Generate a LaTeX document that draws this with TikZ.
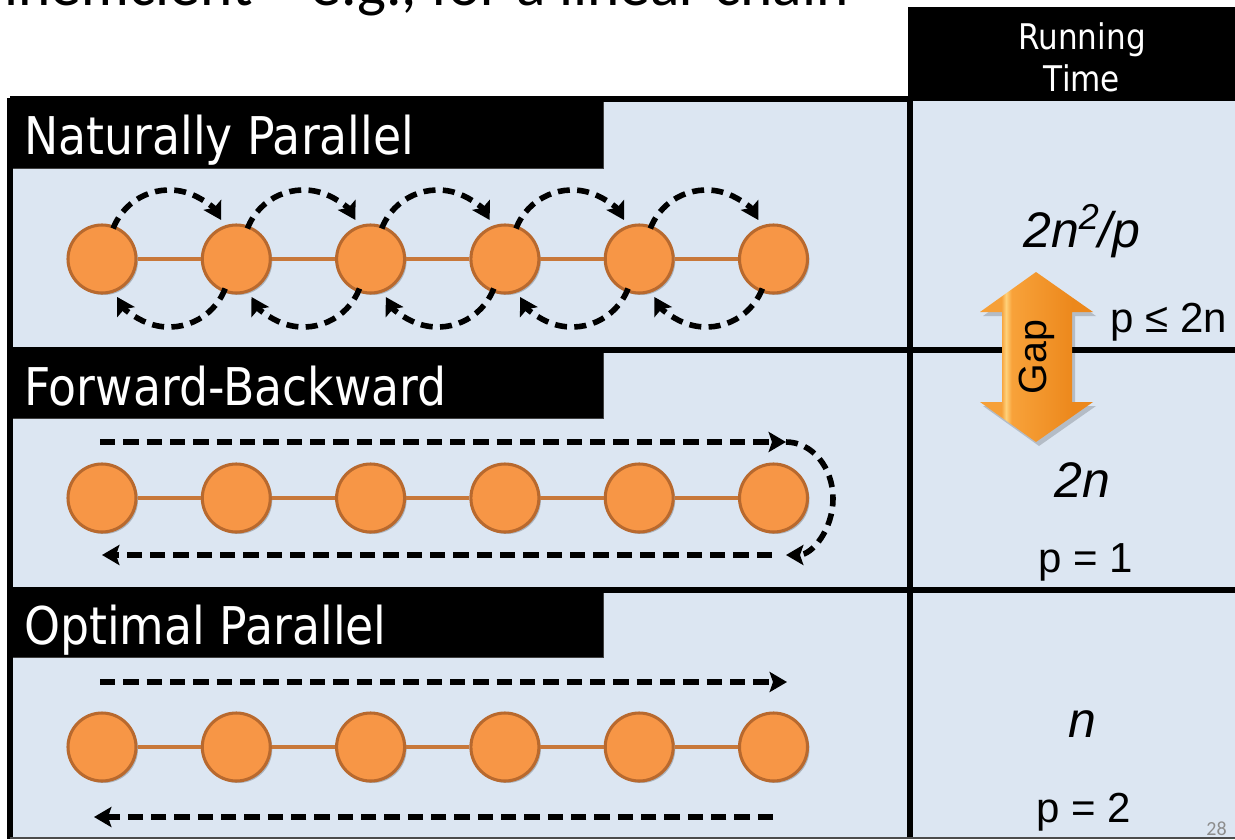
\documentclass[tikz,border=0pt]{standalone}
\usepackage{fontspec}
\setmainfont{Liberation Sans}
\newfontfamily\tfont[FakeStretch=0.88]{DejaVu Sans}
\newfontfamily\cfont{Carlito}
\usetikzlibrary{arrows.meta,calc,shadows}
\definecolor{bgblue}{HTML}{DCE6F2}
\definecolor{orfill}{HTML}{F79646}
\definecolor{ordraw}{HTML}{B8692E}
\definecolor{orline}{HTML}{C8783A}
\definecolor{gapL}{HTML}{F6A038}
\definecolor{gapHi}{HTML}{FFD17A}
\definecolor{gapM}{HTML}{F8A23A}
\definecolor{gapR}{HTML}{EC881C}
\definecolor{pgnum}{HTML}{8C8C8C}
\pgfdeclarehorizontalshading{gapshade}{100bp}{color(0bp)=(gapL); color(25bp)=(gapL); color(34.5bp)=(gapL); color(36.5bp)=(gapHi); color(39bp)=(gapM); color(66bp)=(gapR); color(75bp)=(gapR); color(100bp)=(gapR)}
\tikzset{
  nd/.style={circle, fill=orfill, draw=ordraw, line width=2.3pt, minimum size=51pt, inner sep=0pt,
    drop shadow={shadow xshift=1.5pt, shadow yshift=-1.5pt, opacity=0.22, fill=black}},
  link/.style={draw=orline, line width=2.6pt},
  arcarr/.style={line width=4.2pt, dash pattern=on 9pt off 5.5pt, -{Stealth[length=13pt,width=15pt,inset=2.5pt]}},
  dasharr/.style={line width=4.4pt, dash pattern=on 11.5pt off 6pt, -{Stealth[length=13pt,width=15pt,inset=2.5pt]}},
  rule/.style={line width=3.9pt, black},
  titletxt/.style={font=\tfont\fontsize{39}{44}\selectfont, text=white, inner sep=0pt, anchor=base west},
  headtxt/.style={font=\tfont\fontsize{26.5}{30}\selectfont, text=white, inner sep=0pt, anchor=base},
  bigit/.style={font=\fontsize{37.5}{40}\selectfont\itshape, inner sep=0pt, anchor=base},
  ptxt/.style={font=\fontsize{31.5}{36}\selectfont, inner sep=0pt, anchor=base},
  titlebar/.style={fill=black, draw=black!75, line width=0.6pt}
}
\begin{document}
\begin{tikzpicture}[x=0.75pt,y=-0.75pt]
\useasboundingbox (0,0) rectangle (1235,839);
% partial text cut at the top
\begin{scope}
\clip (0,0) rectangle (1235,839);
\node[anchor=base east, font=\cfont\fontsize{46}{50}\selectfont, inner sep=0pt] (toptext) at (849,5) {inefficient – e.g., for a linear chain};
\end{scope}
% backgrounds
\fill[bgblue] (10,99) rectangle (910,839);
\fill[bgblue] (910,99) rectangle (1235,839);
\fill[black] (908,7) rectangle (1235,101);
% title bars
\draw[titlebar] (10,99) rectangle (603,168);
\draw[titlebar] (10,350) rectangle (603,418);
\draw[titlebar] (10,590) rectangle (603,657);
% table rules
\draw[rule] (10,99) -- (910,99);
\draw[rule] (10,97.5) -- (10,839);
\draw[rule] (910,99) -- (910,839);
\draw[rule] (8,350) -- (1235,350);
\draw[rule] (8,590) -- (1235,590);
\draw[black!70, line width=1.4pt] (10,838.2) -- (1235,838.2);
% titles
\node[titletxt] (t1) at (24,154) {Naturally Parallel};
\node[titletxt] (t2) at (24,405) {Forward-Backward};
\node[titletxt] (t3) at (24,644) {Optimal Parallel};
\node[headtxt] (h1) at (1082,49) {Running};
\node[headtxt] (h2) at (1082,91) {Time};
% chains
\foreach \r/\yy in {a/259, b/498, c/747}{
  \foreach \k/\xx in {1/102, 2/236.3, 3/370.6, 4/504.9, 5/639.2, 6/773.5}{
    \node[nd] (\r\k) at (\xx,\yy) {};
  }
  \foreach \i [evaluate=\i as \j using int(\i+1)] in {1,...,5}{
    \draw[link] (\r\i) -- (\r\j);
  }
}
% naturally parallel arcs
\foreach \i [evaluate=\i as \j using int(\i+1)] in {1,...,5}{
  \draw[arcarr] ($(a\i)!0.5!(a\j)+(0,-9)$) ++(-159:60) arc[start angle=-159, end angle=-30, radius=60];
  \draw[arcarr] ($(a\i)!0.5!(a\j)+(0,8)$) ++(21:60) arc[start angle=21, end angle=150, radius=60];
}
% forward-backward
\coordinate (f1) at (100,442);
\coordinate (f2) at (786,442);
\coordinate (f3) at (772,555);
\coordinate (f4) at (102,555);
\draw[dasharr] (f1) -- (f2);
\draw[arcarr] (f2) arc[start angle=-90, end angle=90, x radius=47, y radius=56.5];
\draw[dasharr] (f3) -- (f4);
% optimal parallel
\coordinate (o1) at (100,682);
\coordinate (o2) at (787,682);
\coordinate (o3) at (773,817);
\coordinate (o4) at (94,817);
\draw[dasharr] (o1) -- (o2);
\draw[dasharr] (o3) -- (o4);
% running times
\node[bigit] (rt1) at (1082,247) {2n\raisebox{0.36em}{\fontsize{27}{27}\selectfont 2}/p};
\node[ptxt] (c1) at (1169,332) {p ≤ 2n};
\node[bigit] (rt2) at (1082,497) {2n};
\node[ptxt] (c2) at (1086,572) {p = 1};
\node[bigit] (rt3) at (1082,737) {n};
\node[ptxt] (c3) at (1084,822) {p = 2};
% gap arrow
\fill[black, opacity=0.18] (1039,276) -- (1096,316) -- (1075,316) -- (1075,406) -- (1096,406) -- (1039,446) -- (983,406) -- (1005,406) -- (1005,316) -- (983,316) -- cycle;
\shade[shading=gapshade] (1036,272) -- (1093,312) -- (1072,312) -- (1072,402) -- (1093,402) -- (1036,442) -- (980,402) -- (1002,402) -- (1002,312) -- (980,312) -- cycle;
\node[font=\fontsize{29.5}{32}\selectfont, inner sep=0pt, anchor=base, rotate=90] (gap) at (1046,357) {Gap};
\node[font=\cfont\fontsize{15}{18}\selectfont, text=pgnum, inner sep=0pt, anchor=base east] (pg) at (1227,835) {28};
\end{tikzpicture}
\end{document}
